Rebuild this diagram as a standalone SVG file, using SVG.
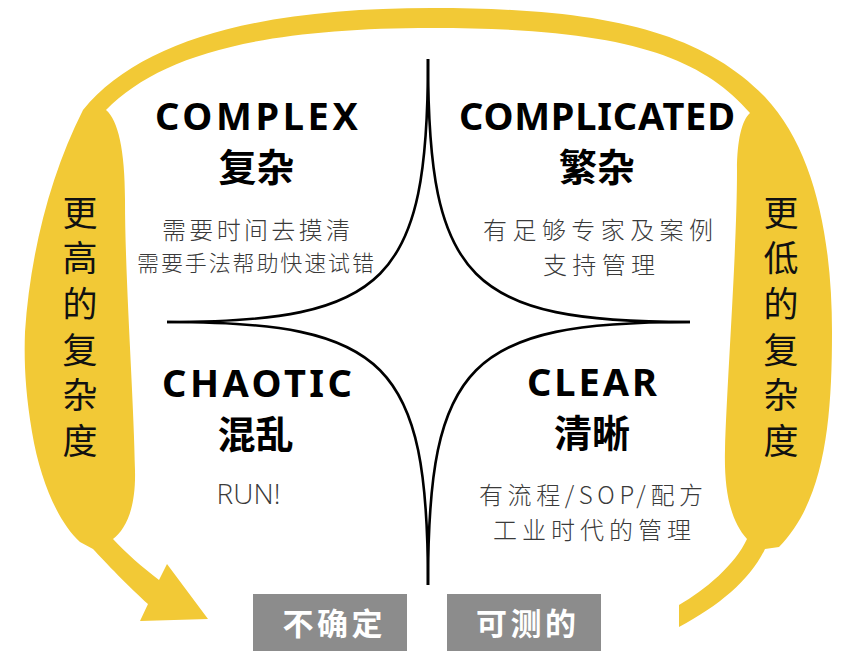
<svg xmlns="http://www.w3.org/2000/svg" width="864" height="665" viewBox="0 0 864 665">
<style>
.en{font-family:"Noto Sans","Open Sans","Liberation Sans",sans-serif;font-weight:700;fill:#000;text-anchor:middle}
.cnb{font-family:"Noto Sans CJK SC","Noto Sans",sans-serif;font-weight:700;fill:#000;text-anchor:middle;font-size:38px}
.desc{font-family:"Noto Sans CJK SC","Noto Sans",sans-serif;font-weight:300;fill:#3a3a3a;text-anchor:middle}
.run{font-family:"Open Sans","Noto Sans",sans-serif;font-weight:300;fill:#3a3a3a;text-anchor:middle;font-size:28px}
.side{font-family:"Noto Sans CJK SC",sans-serif;font-weight:400;fill:#111;font-size:35px;writing-mode:vertical-rl;letter-spacing:10.6px}
.box{fill:#8c8c8c}
.boxt{font-family:"Noto Sans CJK SC",sans-serif;font-weight:700;fill:#fff;text-anchor:middle;font-size:31px}
.star{fill:none;stroke:#000;stroke-width:2.6}
</style>
<g id="arc">
<path fill="#F2C936" d="M432,8 C600,8 700,30 765,97 C815,150 832,240 832,332 C832,420 825,500 779,547 L765,549 C750,580 720,605 679,627 L679,605 C705,590 735,565 747,539 C730,520 724,490 725,450 C727,380 737,250 737,170 C737,140 742,120 750,113 C700,55 620,28 432,28 C260,28 160,55 106,110 C118,120 125,150 125,200 C125,280 134,400 135,470 C136,510 125,530 113,539 C125,552 143,568 159,580 L167,564 L208,619 L140,621 L148,604 C130,588 105,562 93,549 L80,542 C58,522 40,480 32,432 C25,390 24,360 25,332 C30,255 50,175 83,110 C140,40 260,8 432,8 Z"/>
</g>
<g id="connectors">
<path class="star" d="M428,59 C428,281 387,322 167,322"/>
<path class="star" d="M428,59 C428,281 469,322 690,322"/>
<path class="star" d="M428,585 C428,363 387,322 167,322"/>
<path class="star" d="M428,585 C428,363 469,322 690,322"/>
</g>
<g id="complex">
<text class="en" x="256.5" y="130" font-size="38" textLength="203" lengthAdjust="spacing">COMPLEX</text>
<text class="cnb" x="256.5" y="181">复杂</text>
<text class="desc" x="256" y="238.5" font-size="24" textLength="188" lengthAdjust="spacing">需要时间去摸清</text>
<text class="desc" x="255.5" y="271" font-size="22" textLength="237" lengthAdjust="spacing">需要手法帮助快速试错</text>
</g>
<g id="complicated">
<text class="en" x="597" y="130" font-size="38" textLength="276" lengthAdjust="spacing">COMPLICATED</text>
<text class="cnb" x="597" y="181">繁杂</text>
<text class="desc" x="598" y="238.5" font-size="24" textLength="230" lengthAdjust="spacing">有足够专家及案例</text>
<text class="desc" x="599" y="273.5" font-size="24" textLength="112" lengthAdjust="spacing">支持管理</text>
</g>
<g id="chaotic">
<text class="en" x="257" y="397" font-size="38" textLength="190" lengthAdjust="spacing">CHAOTIC</text>
<text class="cnb" x="255.5" y="448">混乱</text>
<text class="run" x="248.5" y="504" textLength="64" lengthAdjust="spacing">RUN!</text>
</g>
<g id="clear">
<text class="en" x="592" y="396" font-size="38" textLength="130" lengthAdjust="spacing">CLEAR</text>
<text class="cnb" x="592" y="447">清晰</text>
<text class="desc" x="591" y="503.5" font-size="24" textLength="224" lengthAdjust="spacing">有流程/SOP/配方</text>
<text class="desc" x="592" y="538.5" font-size="24" textLength="198" lengthAdjust="spacing">工业时代的管理</text>
</g>
<g id="higher">
<text class="side" x="80" y="195">更高的复杂度</text>
</g>
<g id="lower">
<text class="side" x="781" y="195">更低的复杂度</text>
</g>
<g id="uncertain">
<rect class="box" x="253" y="594" width="154" height="57"/>
<text class="boxt" x="332.5" y="635" textLength="100" lengthAdjust="spacing">不确定</text>
</g>
<g id="measurable">
<rect class="box" x="447" y="594" width="154" height="57"/>
<text class="boxt" x="526" y="635" textLength="100" lengthAdjust="spacing">可测的</text>
</g>
</svg>
